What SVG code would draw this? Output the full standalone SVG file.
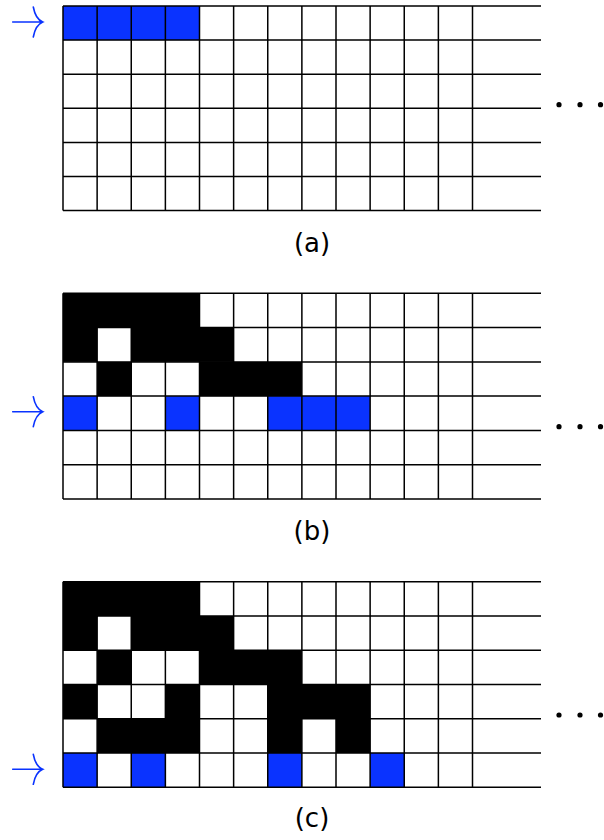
<svg xmlns="http://www.w3.org/2000/svg" width="604" height="840" viewBox="0 0 604 840">
<style>
.bg{fill:#ffffff}
.blk{fill:#000000}
.blu{fill:#0a33ff}
.gl{fill:none;stroke:#000000;stroke-width:1.5}
.arr{fill:none;stroke:#0a33ff;stroke-width:1.6;stroke-linecap:round}
.dot{fill:#000000}
.lbl{font-family:"DejaVu Sans","Liberation Sans",sans-serif;font-size:26px;fill:#000000;text-anchor:middle}
</style>
<rect class="bg" x="0" y="0" width="604" height="840"/>

<g id="grid-a">
  <rect class="blu" x="63" y="6" width="136.5" height="34.1"/>
  <path class="gl" d="M63,6H541M63,40.1H541M63,74.2H541M63,108.3H541M63,142.4H541M63,176.5H541M63,210.6H541
  M63,6V210.6M97.125,6V210.6M131.25,6V210.6M165.375,6V210.6M199.5,6V210.6M233.625,6V210.6M267.75,6V210.6M301.875,6V210.6M336,6V210.6M370.125,6V210.6M404.25,6V210.6M438.375,6V210.6M472.5,6V210.6"/>
  <circle class="dot" cx="559" cy="104.7" r="2.6"/>
  <circle class="dot" cx="580" cy="104.7" r="2.6"/>
  <circle class="dot" cx="600.5" cy="104.7" r="2.6"/>
  <text class="lbl" x="312" y="252">(a)</text>
</g>

<g id="grid-b">
  <rect class="blk" x="63" y="293.3" width="136.5" height="34.3"/>
  <rect class="blk" x="63" y="327.6" width="34.125" height="34.3"/>
  <rect class="blk" x="131.25" y="327.6" width="102.375" height="34.3"/>
  <rect class="blk" x="97.125" y="361.9" width="34.125" height="34.2"/>
  <rect class="blk" x="199.5" y="361.9" width="102.375" height="34.2"/>
  <rect class="blu" x="63" y="396.1" width="34.125" height="34.3"/>
  <rect class="blu" x="165.375" y="396.1" width="34.125" height="34.3"/>
  <rect class="blu" x="267.75" y="396.1" width="102.375" height="34.3"/>
  <path class="gl" d="M63,293.3H541M63,327.6H541M63,361.9H541M63,396.1H541M63,430.4H541M63,464.7H541M63,499H541
  M63,293.3V499M97.125,293.3V499M131.25,293.3V499M165.375,293.3V499M199.5,293.3V499M233.625,293.3V499M267.75,293.3V499M301.875,293.3V499M336,293.3V499M370.125,293.3V499M404.25,293.3V499M438.375,293.3V499M472.5,293.3V499"/>
  <circle class="dot" cx="559" cy="426.7" r="2.6"/>
  <circle class="dot" cx="580" cy="426.7" r="2.6"/>
  <circle class="dot" cx="600.5" cy="426.7" r="2.6"/>
  <text class="lbl" x="312" y="540">(b)</text>
</g>

<g id="grid-c">
  <rect class="blk" x="63" y="581.7" width="136.5" height="34.3"/>
  <rect class="blk" x="63" y="616" width="34.125" height="34.2"/>
  <rect class="blk" x="131.25" y="616" width="102.375" height="34.2"/>
  <rect class="blk" x="97.125" y="650.2" width="34.125" height="34.3"/>
  <rect class="blk" x="199.5" y="650.2" width="102.375" height="34.3"/>
  <rect class="blk" x="63" y="684.5" width="34.125" height="34.3"/>
  <rect class="blk" x="165.375" y="684.5" width="34.125" height="34.3"/>
  <rect class="blk" x="267.75" y="684.5" width="102.375" height="34.3"/>
  <rect class="blk" x="97.125" y="718.8" width="102.375" height="34.2"/>
  <rect class="blk" x="267.75" y="718.8" width="34.125" height="34.2"/>
  <rect class="blk" x="336" y="718.8" width="34.125" height="34.2"/>
  <rect class="blu" x="63" y="753" width="34.125" height="34.3"/>
  <rect class="blu" x="131.25" y="753" width="34.125" height="34.3"/>
  <rect class="blu" x="267.75" y="753" width="34.125" height="34.3"/>
  <rect class="blu" x="370.125" y="753" width="34.125" height="34.3"/>
  <path class="gl" d="M63,581.7H541M63,616H541M63,650.2H541M63,684.5H541M63,718.8H541M63,753H541M63,787.3H541
  M63,581.7V787.3M97.125,581.7V787.3M131.25,581.7V787.3M165.375,581.7V787.3M199.5,581.7V787.3M233.625,581.7V787.3M267.75,581.7V787.3M301.875,581.7V787.3M336,581.7V787.3M370.125,581.7V787.3M404.25,581.7V787.3M438.375,581.7V787.3M472.5,581.7V787.3"/>
  <circle class="dot" cx="559" cy="715" r="2.6"/>
  <circle class="dot" cx="580" cy="715" r="2.6"/>
  <circle class="dot" cx="600.5" cy="715" r="2.6"/>
  <text class="lbl" x="312" y="827">(c)</text>
</g>

<g id="arrows">
  <path class="arr" d="M12.7,22H42.7M33.3,7Q35.5,19 42.7,22Q35.5,25 33.3,37"/>
  <path class="arr" d="M12.7,411.7H42.7M33.3,396.7Q35.5,408.7 42.7,411.7Q35.5,414.7 33.3,426.7"/>
  <path class="arr" d="M12.7,769.3H42.7M33.3,754.3Q35.5,766.3 42.7,769.3Q35.5,772.3 33.3,784.3"/>
</g>
</svg>
